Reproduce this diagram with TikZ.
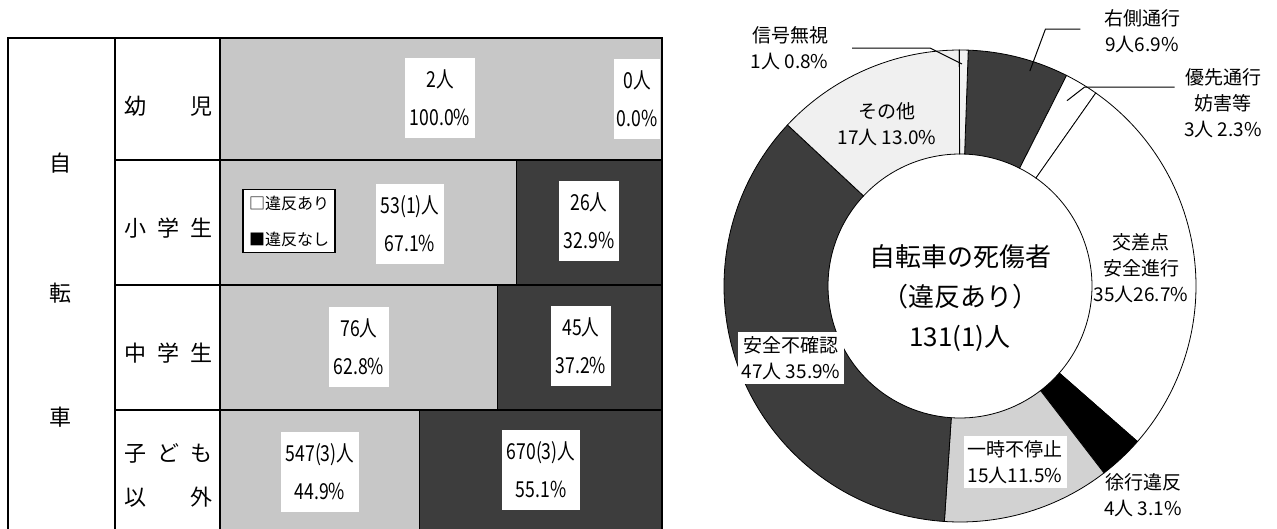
\documentclass[tikz,border=0pt]{standalone}
\usepackage{fontspec}
\setmainfont{Noto Sans CJK JP}
\newfontfamily\narrowjp[FakeStretch=0.8]{Noto Sans CJK JP}
\definecolor{barlight}{gray}{0.78}
\definecolor{bardark}{gray}{0.24}
\begin{document}
\begin{tikzpicture}[x=1pt,y=-1pt,
  cell/.style={font=\fontsize{22}{40}\selectfont},
  numbox/.style={fill=white,align=center,inner xsep=5pt,inner ysep=12pt,
    font=\narrowjp\fontsize{22}{38}\selectfont},
  legendbox/.style={draw,line width=1.5pt,fill=white,align=left,inner sep=6pt,
    font=\fontsize{16}{36}\selectfont},
  pielbl/.style={align=center,font=\fontsize{19}{26}\selectfont},
  whitebox/.style={pielbl,fill=white,inner sep=4pt},
  leader/.style={draw,line width=1pt}]
\clip (0,0) rectangle (1277,528);
\fill[white] (0,0) rectangle (1277,528);

% bars
\fill[barlight] (220,38) rectangle (662,160);
\fill[barlight] (220,160) rectangle (516,285);
\fill[bardark] (516,160) rectangle (662,285);
\fill[barlight] (220,285) rectangle (497,410);
\fill[bardark] (497,285) rectangle (662,410);
\fill[barlight] (220,410) rectangle (419,560);
\fill[bardark] (419,410) rectangle (662,560);

% grid
\draw[line width=1.4pt] (8,38) rectangle (662,560);
\foreach \x in {115,220}
\draw[line width=1.4pt] (\x,38) -- (\x,560);
\foreach \y in {160,285,410}
\draw[line width=1.4pt] (115,\y) -- (662,\y);
\foreach \x/\y in {516/160,497/285,419/410}
\draw[line width=1pt] (\x,\y) -- (\x,\y+125);

% row heads
\node[cell] (c1) at (60,163) {自};
\node[cell] (c2) at (60,293) {転};
\node[cell] (c3) at (60,417) {車};
\node[cell,text width=88pt] (r1) at (168,106) {幼\hfill 児};
\node[cell,text width=88pt] (r2) at (168,228) {小\hfill 学\hfill 生};
\node[cell,text width=88pt] (r3) at (168,353) {中\hfill 学\hfill 生};
\node[cell,text width=88pt,font=\fontsize{22}{44}\selectfont] (r4) at (168,475) {子\hfill ど\hfill も\\以\hfill 外};

% values
\node[numbox] (v1a) at (440,98) {2人\\100.0\%};
\node[numbox,inner xsep=3pt] (v1b) at (637,99) {0人\\0.0\%};
\node[numbox] (v2a) at (410,224) {53(1)人\\67.1\%};
\node[numbox] (v2b) at (589,221) {26人\\32.9\%};
\node[numbox] (v3a) at (359,347) {76人\\62.8\%};
\node[numbox] (v3b) at (581,346) {45人\\37.2\%};
\node[numbox] (v4a) at (320,472) {547(3)人\\44.9\%};
\node[numbox] (v4b) at (541,470) {670(3)人\\55.1\%};
\node[legendbox] (leg) at (289,221) {□違反あり\\■違反なし};

% ring
\begin{scope}[shift={(960,286)},y=1pt]
\foreach \a/\b/\c in {88/63.16/bardark, 63.16/54.88/white, 54.88/-41.24/white,
  -41.24/-52.4/black, -52.4/-93.8/gray!35, -93.8/-223.04/bardark,
  -223.04/-269.84/gray!12, -269.84/-272/gray!10}
\filldraw[fill=\c,draw=black,line width=0.8pt] (\a:236) arc[start angle=\a,end angle=\b,radius=236]
  -- (\b:132) arc[start angle=\b,end angle=\a,radius=132] -- cycle;
\coordinate (sig) at (89.5:222);
\coordinate (rgt) at (72:226);
\coordinate (yus) at (60:214);
\coordinate (jok) at (-47:228);
\end{scope}

\node[font=\fontsize{26}{40}\selectfont,align=center] (mid) at (960,298) {自転車の死傷者\\（違反あり）\\131(1)人};

\node[pielbl,align=right,anchor=east] (sig-l) at (832,48) {信号無視\\1人 0.8\%};
\node[pielbl] (etc-l) at (887,124) {その他\\17人 13.0\%};
\node[pielbl] (rgt-l) at (1142,31) {右側通行\\9人6.9\%};
\node[pielbl] (yus-l) at (1223,103) {優先通行\\妨害等\\3人 2.3\%};
\node[pielbl] (kos-l) at (1141,268) {交差点\\安全進行\\35人26.7\%};
\node[whitebox] (ank-l) at (791,358) {安全不確認\\47人 35.9\%};
\node[whitebox] (ich-l) at (1015,462) {一時不停止\\15人11.5\%};
\node[pielbl] (jok-l) at (1143,495) {徐行違反\\4人 3.1\%};

\draw[leader] ([xshift=20pt]sig-l.east) -- ([xshift=98pt]sig-l.east) -- (sig);
\draw[leader] ([xshift=-20pt,yshift=2pt]rgt-l.west) -- ([xshift=-55pt,yshift=2pt]rgt-l.west) -- (rgt);
\draw[leader] ([xshift=-6pt,yshift=16pt]yus-l.west) -- ([xshift=-96pt,yshift=16pt]yus-l.west) -- (yus);
\draw[line width=3pt] ([xshift=-2pt,yshift=8pt]jok-l.north west) -- (jok);
\end{tikzpicture}
\end{document}
